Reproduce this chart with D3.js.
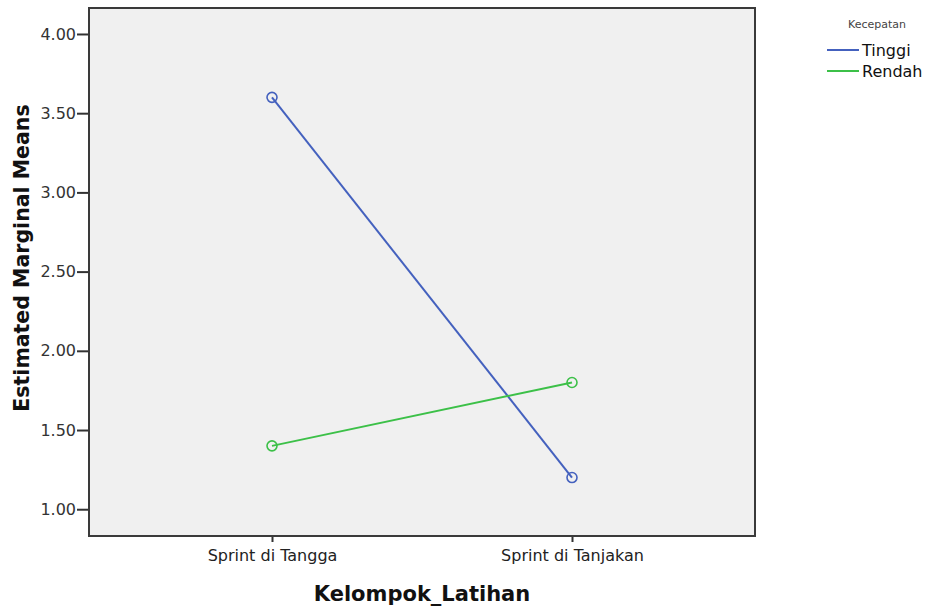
<!DOCTYPE html>
<html>
<head>
<meta charset="utf-8">
<script src="https://cdn.jsdelivr.net/npm/d3@7"></script>
<style>
  body { margin: 0; background: #fff; }
  text { font-family: "DejaVu Sans", Verdana, sans-serif; }
</style>
</head>
<body>
<div id="wrapper"></div>
<script>
// data
const groups = ["Sprint di Tangga", "Sprint di Tanjakan"]
const seriesNames = ["Tinggi", "Rendah"]
const tinggiValues = [3.60, 1.20]
const rendahValues = [1.40, 1.80]
const yTicks = [1.00, 1.50, 2.00, 2.50, 3.00, 3.50, 4.00]
const colors = ["#4461BE", "#3CC048"]

const dimensions = {
    width: 930,
    height: 609,
    margin: { top: 8, right: 175, bottom: 73, left: 89 }
}
dimensions.boundedWidth = dimensions.width - dimensions.margin.left - dimensions.margin.right
dimensions.boundedHeight = dimensions.height - dimensions.margin.top - dimensions.margin.bottom

const series = [
    { name: seriesNames[0], values: tinggiValues, color: colors[0] },
    { name: seriesNames[1], values: rendahValues, color: colors[1] }
]

const svg = d3.select("#wrapper")
    .append("svg")
    .attr("width", dimensions.width)
    .attr("height", dimensions.height)

const bounds = svg.append("g")
    .attr("transform", `translate(${dimensions.margin.left}, ${dimensions.margin.top})`)

const xScale = d3.scalePoint()
    .domain(groups)
    .range([0, dimensions.boundedWidth])
    .padding(0.61)

const yScale = d3.scaleLinear()
    .domain([0.831, 4.164])
    .range([dimensions.boundedHeight, 0])

// plot background
bounds.append("rect")
    .attr("width", dimensions.boundedWidth)
    .attr("height", dimensions.boundedHeight)
    .attr("fill", "#F0F0F0")

// y axis
const yAxis = d3.axisLeft(yScale)
    .tickValues(yTicks)
    .tickFormat(d3.format(".2f"))
    .tickSize(12)
    .tickPadding(1)

const yAxisEl = bounds.append("g").call(yAxis)
yAxisEl.attr("font-family", null)
yAxisEl.select(".domain").remove()
yAxisEl.selectAll(".tick line").attr("stroke", "#333").attr("stroke-width", 2)
yAxisEl.selectAll(".tick text")
    .style("font-size", "16px")
    .attr("fill", "#333")

// x axis
const xAxis = d3.axisBottom(xScale)
    .tickSize(6)
    .tickPadding(8)

const xAxisEl = bounds.append("g")
    .attr("transform", `translate(0, ${dimensions.boundedHeight})`)
    .call(xAxis)
xAxisEl.attr("font-family", null)
xAxisEl.select(".domain").remove()
xAxisEl.selectAll(".tick line").attr("stroke", "#333").attr("stroke-width", 2)
xAxisEl.selectAll(".tick text")
    .style("font-size", "16px")
    .attr("fill", "#222")

// frame
bounds.append("rect")
    .attr("width", dimensions.boundedWidth)
    .attr("height", dimensions.boundedHeight)
    .attr("fill", "none")
    .attr("stroke", "#3a3a3a")
    .attr("stroke-width", 2)

// lines and markers
const line = d3.line()
    .x((d, i) => xScale(groups[i]))
    .y(d => yScale(d))

const seriesG = bounds.selectAll(".series")
    .data(series)
    .join("g")
    .attr("class", "series")

seriesG.append("path")
    .attr("d", d => line(d.values))
    .attr("fill", "none")
    .attr("stroke", d => d.color)
    .attr("stroke-width", 2)

seriesG.selectAll("circle")
    .data(d => d.values.map((v, i) => ({ v, i, color: d.color })))
    .join("circle")
    .attr("cx", d => xScale(groups[d.i]))
    .attr("cy", d => yScale(d.v))
    .attr("r", 5)
    .attr("fill", "none")
    .attr("stroke", d => d.color)
    .attr("stroke-width", 1.6)

// axis titles
svg.append("text")
    .attr("transform", `translate(29, ${dimensions.margin.top + dimensions.boundedHeight / 2 - 14}) rotate(-90)`)
    .attr("text-anchor", "middle")
    .style("font-size", "20.5px")
    .style("font-weight", "bold")
    .attr("fill", "#111")
    .text("Estimated Marginal Means")

svg.append("text")
    .attr("x", dimensions.margin.left + dimensions.boundedWidth / 2)
    .attr("y", 601)
    .attr("text-anchor", "middle")
    .style("font-size", "21px")
    .style("font-weight", "bold")
    .attr("fill", "#111")
    .text("Kelompok_Latihan")

// legend
const legend = svg.append("g")

legend.append("text")
    .attr("x", 877)
    .attr("y", 28)
    .attr("text-anchor", "middle")
    .style("font-size", "11px")
    .attr("fill", "#444")
    .text("Kecepatan")

const legendItems = legend.selectAll(".item")
    .data(series)
    .join("g")
    .attr("class", "item")
    .attr("transform", (d, i) => `translate(827, ${50 + i * 21})`)

legendItems.append("line")
    .attr("x1", 0)
    .attr("x2", 32)
    .attr("stroke", d => d.color)
    .attr("stroke-width", 2)

legendItems.append("text")
    .attr("x", 35)
    .attr("y", 5.5)
    .style("font-size", "16px")
    .attr("fill", "#111")
    .text(d => d.name)
</script>
</body>
</html>
